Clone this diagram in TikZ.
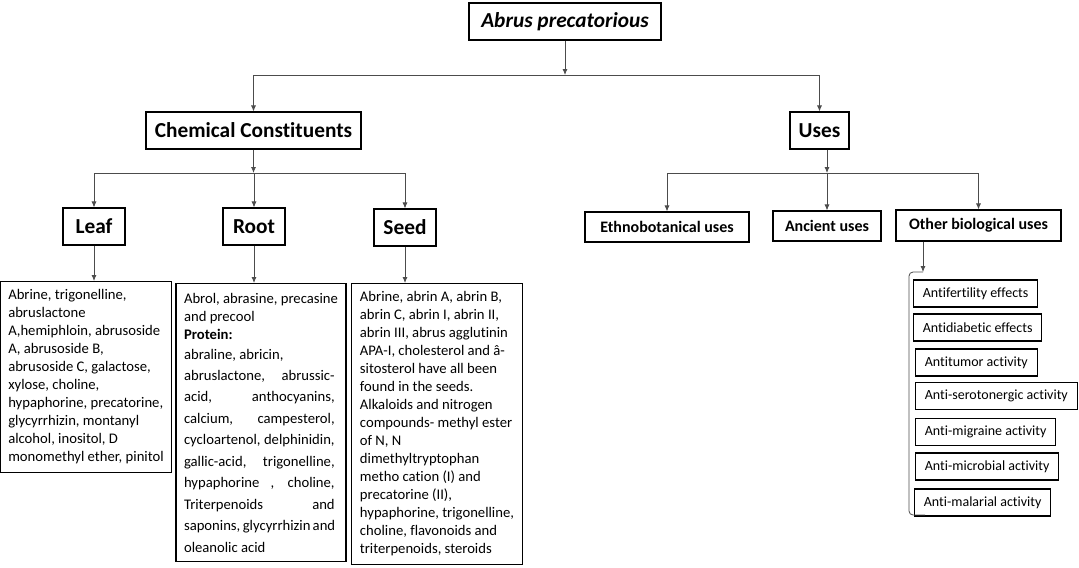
\documentclass[tikz,border=0pt]{standalone}
\usepackage{fontspec}
\setmainfont{Carlito}[Ligatures=NoCommon]
\usetikzlibrary{arrows.meta}
\tikzset{
  basebox/.style   = {shape=rectangle, draw=black, line width=0.8pt, align=center},
  titlebox/.style  = {basebox, font=\fontsize{16}{19}\selectfont\bfseries\itshape,
                      minimum width=144pt, minimum height=27.75pt},
  headbox/.style   = {basebox, font=\fontsize{16}{19}\selectfont\bfseries, minimum height=27.75pt},
  usebox/.style    = {basebox, font=\fontsize{12}{14}\selectfont\bfseries, minimum height=22.5pt},
  listbox/.style   = {basebox, anchor=north, align=left, minimum width=127.5pt,
                      inner xsep=6pt, inner ysep=6pt, font=\fontsize{11}{13.5}\selectfont},
  effectbox/.style = {basebox, anchor=west, inner xsep=7pt, minimum height=20.25pt,
                      font=\fontsize{10.5}{12.5}\selectfont},
  link/.style      = {draw=black!70, line width=0.6pt},
  arr/.style       = {link, -{Latex[length=4.5pt,width=3.75pt]}}
}
\begin{document}
\begin{tikzpicture}[x=0.75pt, y=-0.75pt]
\useasboundingbox (0,0) rectangle (1079,568);

% top levels
\node[titlebox] (abrus) at (565,21.5) {Abrus precatorious};
\node[headbox, minimum width=161.25pt] (chem) at (253.5,130.5) {Chemical Constituents};
\node[headbox, minimum width=44.25pt] (uses) at (819.5,130.5) {Uses};

% plant parts
\node[headbox, minimum width=46.5pt] (leaf) at (94,226.5) {Leaf};
\node[headbox, minimum width=46.5pt] (root) at (254,226.5) {Root};
\node[headbox, minimum width=46.5pt] (seed) at (405,227.5) {Seed};

\node[listbox] (leaflist) at (86,281) {Abrine, trigonelline,\\
  abruslactone\\
  A,hemiphloin, abrusoside\\
  A, abrusoside B,\\
  abrusoside C, galactose,\\
  xylose, choline,\\
  hypaphorine, precatorine,\\
  glycyrrhizin, montanyl\\
  alcohol, inositol, D\\
  monomethyl ether, pinitol};
\node[listbox, inner ysep=7pt] (rootlist) at (261,283) {Abrol, abrasine, precasine\\
  and precool\\
  \textbf{Protein:}\\[1.5pt]
  abraline, abricin,\\[2.6pt]
  \makebox[113pt][s]{abruslactone, abrussic-}\\[2.6pt]
  \makebox[113pt][s]{acid, anthocyanins,}\\[2.6pt]
  \makebox[113pt][s]{calcium, campesterol,}\\[2.6pt]
  \makebox[113pt][s]{cycloartenol, delphinidin,}\\[2.6pt]
  \makebox[113pt][s]{gallic-acid, trigonelline,}\\[2.6pt]
  \makebox[113pt][s]{hypaphorine , choline,}\\[2.6pt]
  \makebox[113pt][s]{Triterpenoids and}\\[2.6pt]
  \makebox[113pt][s]{saponins, glycyrrhizin and}\\[2.6pt]
  oleanolic acid};
\node[listbox] (seedlist) at (437,283) {Abrine, abrin A, abrin B,\\
  abrin C, abrin I, abrin II,\\
  abrin III, abrus agglutinin\\
  APA-I, cholesterol and â-\\
  sitosterol have all been\\
  found in the seeds.\\
  Alkaloids and nitrogen\\
  compounds- methyl ester\\
  of N, N\\
  dimethyltryptophan\\
  metho cation (I) and\\
  precatorine (II),\\
  hypaphorine, trigonelline,\\
  choline, flavonoids and\\
  triterpenoids, steroids};

% uses
\node[usebox, minimum width=123pt] (ethno) at (667,227) {Ethnobotanical uses};
\node[usebox, minimum width=81pt] (ancient) at (827,226) {Ancient uses};
\node[usebox, minimum width=123.75pt, minimum height=23.25pt] (other) at (978.5,225.5) {Other biological uses};

% biological effects
\node[effectbox] (antifert) at (913,293.5) {Antifertility effects};
\node[effectbox] (antidiab) at (913,327.5) {Antidiabetic effects};
\node[effectbox] (antitum) at (915,362.5) {Antitumor activity};
\node[effectbox] (antisero) at (915,396) {Anti-serotonergic activity};
\node[effectbox] (antimigr) at (915,432) {Anti-migraine activity};
\node[effectbox] (antimicr) at (915,466.5) {Anti-microbial activity};
\node[effectbox] (antimal) at (914,502.5) {Anti-malarial activity};

% junctions
\coordinate (j0) at (565,75);
\coordinate (j1) at (253.5,173);
\coordinate (j2) at (827,173);
\coordinate (btop) at (923,272);
\coordinate (bbot) at (925,515);

\draw[arr] (abrus) -- (j0);
\draw[arr] (j0) -| (chem.north);
\draw[arr] (j0) -| (uses.north);

\draw[arr] (chem) -- (j1);
\draw[arr] (j1) -| (leaf.north);
\draw[arr] (j1) -| (root.north);
\draw[arr] (j1) -| (seed.north);
\draw[arr] (leaf) -- (leaf.south |- leaflist.north);
\draw[arr] (root) -- (root.south |- rootlist.north);
\draw[arr] (seed) -- (seed.south |- seedlist.north);

\draw[arr] (uses.south -| j2) -- (j2);
\draw[arr] (j2) -| (ethno.north);
\draw[arr] (j2) -| (ancient.north);
\draw[arr] (j2) -| (other.north);

\draw[arr] (other.south -| btop) -- (btop);
\draw[link, rounded corners=3pt] (btop) -- ++(-14,0) |- (bbot);

\end{tikzpicture}
\end{document}
